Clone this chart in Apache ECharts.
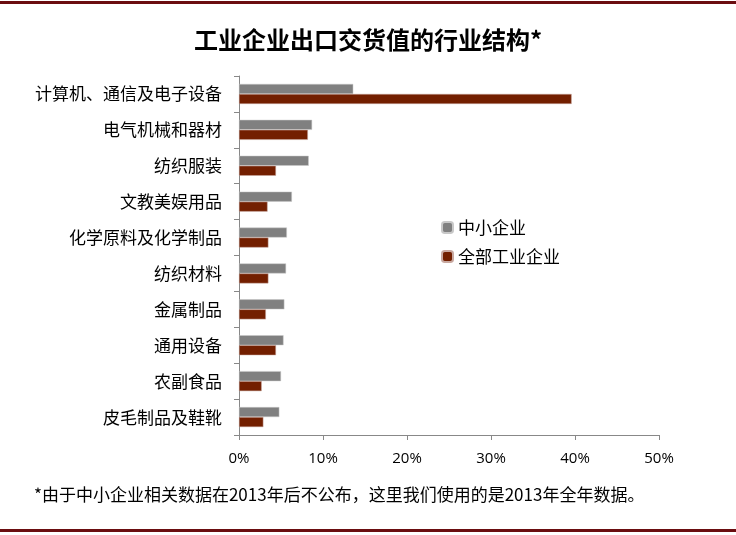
<!DOCTYPE html>
<html>
    <head>
        <meta charset="utf-8">
        <script src="https://cdn.jsdelivr.net/npm/echarts@6/dist/echarts.min.js"></script>
        <style>
            html, body { margin: 0; padding: 0; background: #fff; }
        </style>
    </head>
    <body>
        <div id="main" style="width: 736px;height:535px;"></div>
        <script type="text/javascript">
            // 行业（从上到下）
            var categories = ['计算机、通信及电子设备', '电气机械和器材', '纺织服装', '文教美娱用品', '化学原料及化学制品',
                '纺织材料', '金属制品', '通用设备', '农副食品', '皮毛制品及鞋靴'];
            // 中小企业，%
            var smeValues = [13.6, 8.7, 8.3, 6.3, 5.7, 5.6, 5.4, 5.3, 5.0, 4.8];
            // 全部工业企业，%
            var allValues = [39.6, 8.2, 4.4, 3.4, 3.5, 3.5, 3.2, 4.4, 2.7, 2.9];
            var xTicks = [0, 10, 20, 30, 40, 50];

            var cjk = '"Noto Sans CJK SC", sans-serif';
            var myChart = echarts.init(document.getElementById('main'));

            var option = {
                backgroundColor: '#fff',
                animation: false,
                title: {
                    text: '工业企业出口交货值的行业结构*',
                    left: 'center',
                    top: 23,
                    textStyle: { fontFamily: cjk, fontSize: 24, fontWeight: 'bold', color: '#000' }
                },
                legend: {
                    orient: 'vertical',
                    left: 436,
                    top: 214,
                    itemWidth: 11,
                    itemHeight: 11,
                    itemGap: 12,
                    textStyle: { fontFamily: cjk, fontSize: 17, color: '#000' },
                    data: ['中小企业', '全部工业企业']
                },
                grid: { left: 239, right: 77, top: 76, bottom: 100, containLabel: false },
                xAxis: {
                    type: 'value',
                    min: xTicks[0],
                    max: xTicks[xTicks.length - 1],
                    interval: 10,
                    axisLine: { show: true, lineStyle: { color: '#888' } },
                    axisTick: { show: true, length: 5, lineStyle: { color: '#888' } },
                    splitLine: { show: false },
                    axisLabel: {
                        formatter: '{value}%',
                        margin: 16,
                        fontFamily: '"Open Sans", sans-serif',
                        fontSize: 15,
                        color: '#000'
                    }
                },
                yAxis: {
                    type: 'category',
                    inverse: true,
                    data: categories,
                    axisLine: { show: true, lineStyle: { color: '#888' } },
                    axisTick: { show: true, length: 5, lineStyle: { color: '#888' } },
                    axisLabel: { margin: 17, fontFamily: cjk, fontSize: 17, color: '#000' }
                },
                series: [
                    {
                        name: '中小企业',
                        type: 'bar',
                        data: smeValues,
                        barWidth: 10,
                        barGap: '0%',
                        itemStyle: { color: '#808080', borderColor: '#c8c8c8', borderWidth: 0.5 }
                    },
                    {
                        name: '全部工业企业',
                        type: 'bar',
                        data: allValues,
                        barWidth: 10,
                        barGap: '0%',
                        itemStyle: { color: '#731f00', borderColor: '#c8a8a0', borderWidth: 0.5 }
                    }
                ],
                graphic: [
                    { type: 'rect', shape: { x: 0, y: 1, width: 736, height: 3 }, style: { fill: '#6b0d10' } },
                    { type: 'rect', shape: { x: 0, y: 529, width: 736, height: 3 }, style: { fill: '#6b0d10' } },
                    {
                        type: 'text',
                        left: 34,
                        top: 486,
                        style: {
                            text: '*由于中小企业相关数据在2013年后不公布，这里我们使用的是2013年全年数据。',
                            font: '17px "Noto Sans CJK SC", sans-serif',
                            fill: '#000'
                        }
                    }
                ]
            };

            myChart.setOption(option);
        </script>
    </body>
</html>
